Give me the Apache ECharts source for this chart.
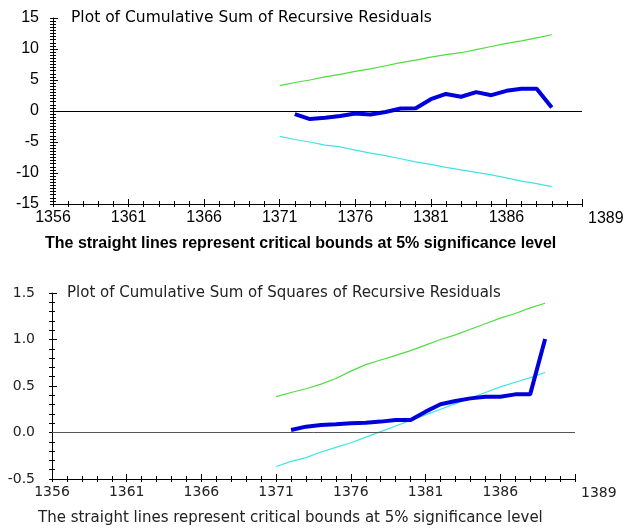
<!DOCTYPE html>
<html>
<head>
<meta charset="utf-8">
<script src="https://cdn.jsdelivr.net/npm/echarts@6/dist/echarts.min.js"></script>
<style>html,body{margin:0;padding:0;background:#fff;}#c{width:626px;height:529px;}</style>
</head>
<body>
<div id="c"></div>
<script>
// ---- data ----
var boundYears = [1371,1372,1373,1374,1375,1376,1377,1378,1379,1380,1381,1382,1383,1384,1385,1386,1387,1388,1389];
var statYears  = [1372,1373,1374,1375,1376,1377,1378,1379,1380,1381,1382,1383,1384,1385,1386,1387,1388,1389];

var cusumUpper = [4.1,4.6,5.0,5.5,5.9,6.4,6.8,7.3,7.8,8.2,8.7,9.1,9.4,9.9,10.4,10.9,11.3,11.8,12.3];
var cusumLower = [-4.1,-4.6,-5.0,-5.5,-5.8,-6.3,-6.8,-7.2,-7.7,-8.2,-8.6,-9.1,-9.5,-9.9,-10.3,-10.8,-11.3,-11.7,-12.2];
var cusum      = [-0.5,-1.3,-1.1,-0.8,-0.4,-0.55,-0.15,0.4,0.45,1.9,2.75,2.3,3.05,2.55,3.25,3.6,3.6,0.55];

var sqUpper = [0.385,0.43,0.47,0.52,0.58,0.66,0.73,0.78,0.83,0.88,0.94,1.0,1.05,1.11,1.17,1.23,1.28,1.34,1.39];
var sqLower = [-0.365,-0.31,-0.27,-0.21,-0.16,-0.11,-0.05,0.01,0.07,0.13,0.19,0.25,0.31,0.37,0.43,0.49,0.54,0.59,0.645];
var cusumSq = [0.027,0.063,0.08,0.088,0.099,0.106,0.117,0.134,0.134,0.224,0.303,0.339,0.367,0.385,0.385,0.41,0.41,1.005];

var xMin = 1356, xMax = 1391, lastYearLabel = '1389';
var titles = ['Plot of Cumulative Sum of Recursive Residuals', 'Plot of Cumulative Sum of Squares of Recursive Residuals'];
var note = 'The straight lines represent critical bounds at 5% significance level';

function pairs(xs, ys){ return xs.map(function(x,i){ return [x, ys[i]]; }); }

var topFont = 'Liberation Sans';
var botFont = 'DejaVu Sans';

function mainX(grid, font, size, color){
  return {
    type:'value', gridIndex:grid, position:'bottom', min:xMin, max:xMax, interval:5,
    axisLine:{show:true, onZero:false, lineStyle:{color:'#000', width:1}},
    axisTick:{show:true, inside:true, length:5, lineStyle:{color:'#000'}},
    minorTick:{show:true, splitNumber:5, length:3, lineStyle:{color:'#000'}},
    splitLine:{show:false},
    axisLabel:{show:true, showMaxLabel:false, margin:6, fontFamily:font, fontSize:size, color:color,
      formatter:function(v){ return v >= xMax ? '' : String(v); }},
    name:lastYearLabel, nameLocation:'end', nameGap:6,
    nameTextStyle:{fontFamily:font, fontSize:size, color:color, verticalAlign:'top', padding:[7,0,0,0]}
  };
}
function tickX(grid){
  return {
    type:'value', gridIndex:grid, position:'bottom', min:xMin, max:xMax, interval:1,
    axisLine:{show:false, onZero:false}, axisLabel:{show:false}, splitLine:{show:false},
    axisTick:{show:true, inside:false, length:3, lineStyle:{color:'#000'}}
  };
}
function mainY(grid, min, max, interval, minorSplit, font, size, color, margin, fmt){
  return {
    type:'value', gridIndex:grid, position:'left', min:min, max:max, interval:interval,
    axisLine:{show:true, onZero:false, lineStyle:{color:'#000', width:1}},
    axisTick:{show:true, inside:true, length:5, lineStyle:{color:'#000'}},
    minorTick:{show:true, splitNumber:minorSplit, length:3, lineStyle:{color:'#000'}},
    splitLine:{show:false},
    axisLabel:{show:true, margin:margin, fontFamily:font, fontSize:size, color:color, formatter:fmt}
  };
}
function tickY(grid, min, max, interval, len){
  return {
    type:'value', gridIndex:grid, position:'left', min:min, max:max, interval:interval,
    axisLine:{show:false, onZero:false}, axisLabel:{show:false}, splitLine:{show:false},
    axisTick:{show:true, inside:false, length:len, lineStyle:{color:'#000'}}
  };
}

var green = '#50dc40', cyan = '#40e4e4', blue = '#0000dc';

function line(xi, yi, data, color, width, zeroColor){
  var s = {type:'line', xAxisIndex:xi, yAxisIndex:yi, data:data, showSymbol:false, symbol:'none',
    lineStyle:{color:color, width:width}, itemStyle:{color:color}, silent:true, animation:false, z:3};
  if (zeroColor){
    s.markLine = {silent:true, symbol:['none','none'], label:{show:false}, animation:false,
      lineStyle:{color:zeroColor, width:1, type:'solid'}, data:[{yAxis:0}]};
    s.z = 2;
  }
  return s;
}

var chart = echarts.init(document.getElementById('c'), null, {renderer:'canvas'});
chart.setOption({
  animation:false,
  backgroundColor:'#fff',
  title:[
    {text:titles[0], left:71, top:10, padding:0, textStyle:{fontFamily:botFont, fontSize:15.5, fontWeight:'normal', color:'#000'}},
    {text:note, left:45, top:236, padding:0, textStyle:{fontFamily:topFont, fontSize:16, fontWeight:'bold', color:'#000'}},
    {text:titles[1], left:67, top:286, padding:0, textStyle:{fontFamily:botFont, fontSize:15, fontWeight:'normal', color:'#222'}},
    {text:note, left:38, top:511, padding:0, textStyle:{fontFamily:botFont, fontSize:15, fontWeight:'normal', color:'#222'}}
  ],
  grid:[
    {left:53, top:18, width:529, height:186, containLabel:false, outerBoundsMode:'none'},
    {left:52, top:293, width:523, height:186, containLabel:false, outerBoundsMode:'none'}
  ],
  xAxis:[ mainX(0, topFont, 16, '#000'), tickX(0), mainX(1, botFont, 14, '#222'), tickX(1) ],
  yAxis:[
    mainY(0, -15, 15, 5, 10, topFont, 16, '#000', 14, function(v){ return String(v); }),
    tickY(0, -15, 15, 0.5, 3),
    mainY(1, -0.5, 1.5, 0.5, 5, botFont, 14, '#222', 17, function(v){ return v.toFixed(1); }),
    tickY(1, -0.5, 1.5, 0.1, 3)
  ],
  series:[
    line(0, 0, pairs(boundYears, cusumUpper), green, 1.2, '#000'),
    line(0, 0, pairs(boundYears, cusumLower), cyan, 1.2),
    line(0, 0, pairs(statYears, cusum), blue, 4),
    line(2, 2, pairs(boundYears, sqUpper), green, 1.2, '#555'),
    line(2, 2, pairs(boundYears, sqLower), cyan, 1.2),
    line(2, 2, pairs(statYears, cusumSq), blue, 4)
  ]
});
</script>
</body>
</html>
